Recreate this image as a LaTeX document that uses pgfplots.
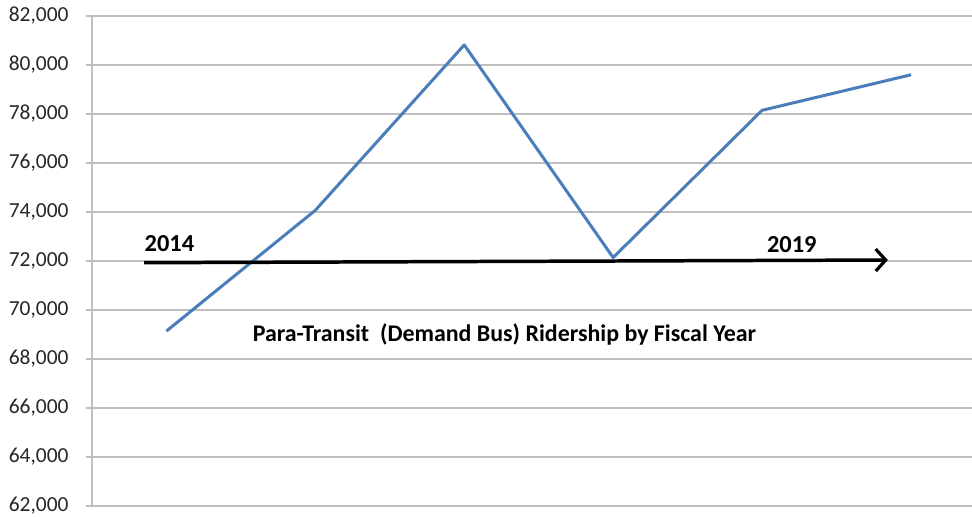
\documentclass[border=0pt]{standalone}
\usepackage{pgfplots}
\pgfplotsset{compat=1.18}
\usepackage{fontspec}
\setmainfont{Carlito}
\usetikzlibrary{arrows.meta}
\definecolor{exblue}{HTML}{4A7EBB}
\definecolor{gridgray}{HTML}{BFBFBF}
\begin{document}
\begin{tikzpicture}
\begin{axis}[
  scale only axis,
  width=880bp, height=490bp,
  xmin=-0.5, xmax=5.41,
  ymin=62000, ymax=82000,
  ytick={62000,64000,...,82000},
  scaled y ticks=false,
  xtick=\empty,
  ymajorgrids,
  major grid style={gridgray, line width=1.2pt},
  axis line style={gridgray, line width=1.2pt},
  axis x line*=bottom,
  axis y line*=left,
  x axis line style={draw=none},
  y tick style={gridgray, line width=1.2pt},
  tick align=outside,
  major tick length=6bp,
  yticklabel style={font=\fontsize{21.5}{24}\selectfont, text=black!85, xshift=-14bp},
  /pgf/number format/.cd, fixed, 1000 sep={,}, assume math mode=true,
  clip=false,
]
\coordinate (bl) at (rel axis cs:0,0);
\coordinate (tr) at (rel axis cs:1,1);
\addplot[exblue, line width=3pt, line join=round] coordinates {
  (0,69140) (1,74070) (2,80820) (3,72140) (4,78150) (5,79600)
};
\addplot[black, line width=3.5pt, -{Straight Barb[length=10bp,width=22bp,line width=3.2pt]}] coordinates {
  (-0.15,71930) (4.845,72040)
};
\node[font=\bfseries\fontsize{24.5}{26}\selectfont] at (axis cs:0.02,72730) {2014};
\node[font=\bfseries\fontsize{24.5}{26}\selectfont] at (axis cs:4.2,72650) {2019};
\node[font=\bfseries\fontsize{24}{26}\selectfont] at (axis cs:2.27,68980) {Para-Transit\ \ (Demand Bus) Ridership by Fiscal Year};
\end{axis}
\pgfresetboundingbox
\useasboundingbox ([shift={(-92bp,-11bp)}]bl) rectangle ([shift={(0bp,16bp)}]tr);
\end{tikzpicture}
\end{document}
